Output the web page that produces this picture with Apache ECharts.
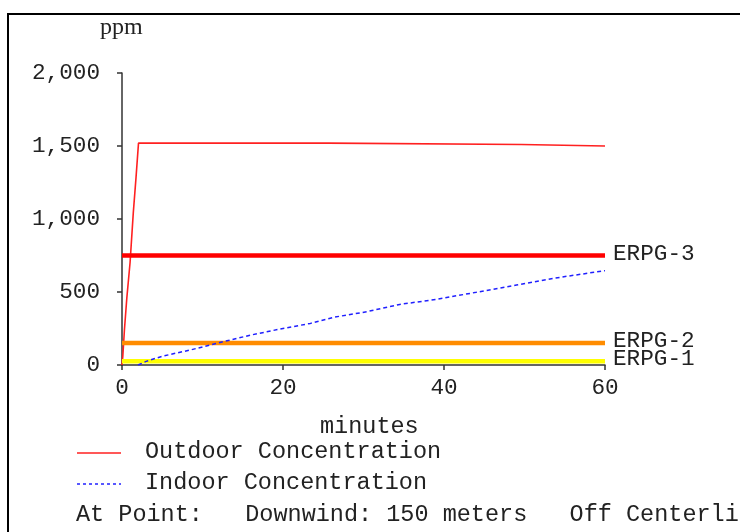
<!DOCTYPE html>
<html>
<head>
<meta charset="utf-8">
<script src="https://cdn.jsdelivr.net/npm/echarts@6/dist/echarts.min.js"></script>
<style>html,body{margin:0;padding:0;background:#fff;}#c{width:740px;height:532px;}</style>
</head>
<body>
<div id="c"></div>
<script>
// Data (minutes, ppm)
const outdoorMinutes = [0, 0.1, 0.3, 0.6, 1.0, 1.4, 1.75, 2.05, 25.6, 25.6, 49.6, 49.6, 60];
const outdoorPpm     = [0, 60, 240, 460, 700, 1040, 1290, 1520, 1520, 1510, 1510, 1500, 1500];
const indoorMinutes = [2, 3, 5, 8.5, 12.6, 16, 19.6, 23.4, 26.3, 30.4, 34.5, 39.1, 44, 49, 53.6, 60];
const indoorPpm     = [0, 25, 60, 103, 160, 205, 246, 285, 327, 365, 415, 450, 498, 548, 594, 646];
const erpgNames  = ['ERPG-3', 'ERPG-2', 'ERPG-1'];
const erpgValues = [750, 150, 25];
const erpgRange  = [0, 60];
const xTicks = [0, 20, 40, 60];
const yTicks = [0, 500, 1000, 1500, 2000];
const legendNames = ['Outdoor Concentration', 'Indoor Concentration'];
const xAxisTitle = 'minutes';
const yAxisTitle = 'ppm';
const footerText = 'At Point:   Downwind: 150 meters   Off Centerline: 0 meters';

const zip = (a, b) => a.map((v, i) => [v, b[i]]);
const erpgColors = ['#ff0000', '#ff8c00', '#ffff00'];
const mono = '"Liberation Mono", "Courier New", monospace';
const FS = 22.7;
const FL = 23.5;

const chart = echarts.init(document.getElementById('c'), null, {renderer: 'canvas'});
const erpgSeries = erpgNames.map((n, i) => ({
  name: n, type: 'line', symbol: 'none', silent: true, z: 3,
  data: [[erpgRange[0], erpgValues[i]], [erpgRange[1], erpgValues[i]]],
  lineStyle: {color: erpgColors[i], width: 4.5},
  endLabel: {show: true, formatter: n, color: '#222', fontFamily: mono, fontSize: FS, distance: 8, offset: [0, -2]}
}));

chart.setOption({
  animation: false,
  backgroundColor: '#fff',
  grid: {left: 122, right: 135, top: 73, bottom: 167, containLabel: false},
  xAxis: {
    type: 'value', min: xTicks[0], max: xTicks[xTicks.length - 1], interval: 20,
    axisLine: {lineStyle: {color: '#333', width: 1.5}},
    axisTick: {show: true, length: 5, lineStyle: {color: '#333', width: 1.5}},
    axisLabel: {margin: 11, color: '#222', fontFamily: mono, fontSize: FS},
    splitLine: {show: false}
  },
  yAxis: {
    type: 'value', min: yTicks[0], max: yTicks[yTicks.length - 1], interval: 500,
    axisLine: {show: true, lineStyle: {color: '#333', width: 1.5}},
    axisTick: {show: true, length: 5, lineStyle: {color: '#333', width: 1.5}},
    axisLabel: {margin: 22, color: '#222', fontFamily: mono, fontSize: FS,
      formatter: v => v.toLocaleString('en-US')},
    splitLine: {show: false}
  },
  series: [
    {name: legendNames[0], type: 'line', symbol: 'none', z: 2,
     data: zip(outdoorMinutes, outdoorPpm),
     lineStyle: {color: '#ff2020', width: 1.6}},
    ...erpgSeries,
    {name: legendNames[1], type: 'line', symbol: 'none', z: 4,
     data: zip(indoorMinutes, indoorPpm),
     lineStyle: {color: '#2020ff', width: 1.5, type: [4, 3]}}
  ],
  graphic: [
    {type: 'rect', shape: {x: 8, y: 14, width: 800, height: 600}, style: {fill: 'none', stroke: '#000', lineWidth: 2}, silent: true},
    {type: 'text', x: 100, y: 28, style: {text: yAxisTitle, fontFamily: '"Liberation Serif", serif', fontSize: 24, fill: '#222', verticalAlign: 'middle'}},
    {type: 'text', x: 320, y: 427, style: {text: xAxisTitle, fontFamily: mono, fontSize: FL, fill: '#222', verticalAlign: 'middle'}},
    {type: 'line', shape: {x1: 77, y1: 453, x2: 121, y2: 453}, style: {stroke: '#ff2020', lineWidth: 1.5}},
    {type: 'text', x: 145, y: 452, style: {text: legendNames[0], fontFamily: mono, fontSize: FL, fill: '#222', verticalAlign: 'middle'}},
    {type: 'line', shape: {x1: 77, y1: 484, x2: 121, y2: 484}, style: {stroke: '#2020ff', lineWidth: 1.5, lineDash: [3, 3]}},
    {type: 'text', x: 145, y: 483, style: {text: legendNames[1], fontFamily: mono, fontSize: FL, fill: '#222', verticalAlign: 'middle'}},
    {type: 'text', x: 76, y: 515, style: {text: footerText, fontFamily: mono, fontSize: FL, fill: '#222', verticalAlign: 'middle'}}
  ]
});
</script>
</body>
</html>
